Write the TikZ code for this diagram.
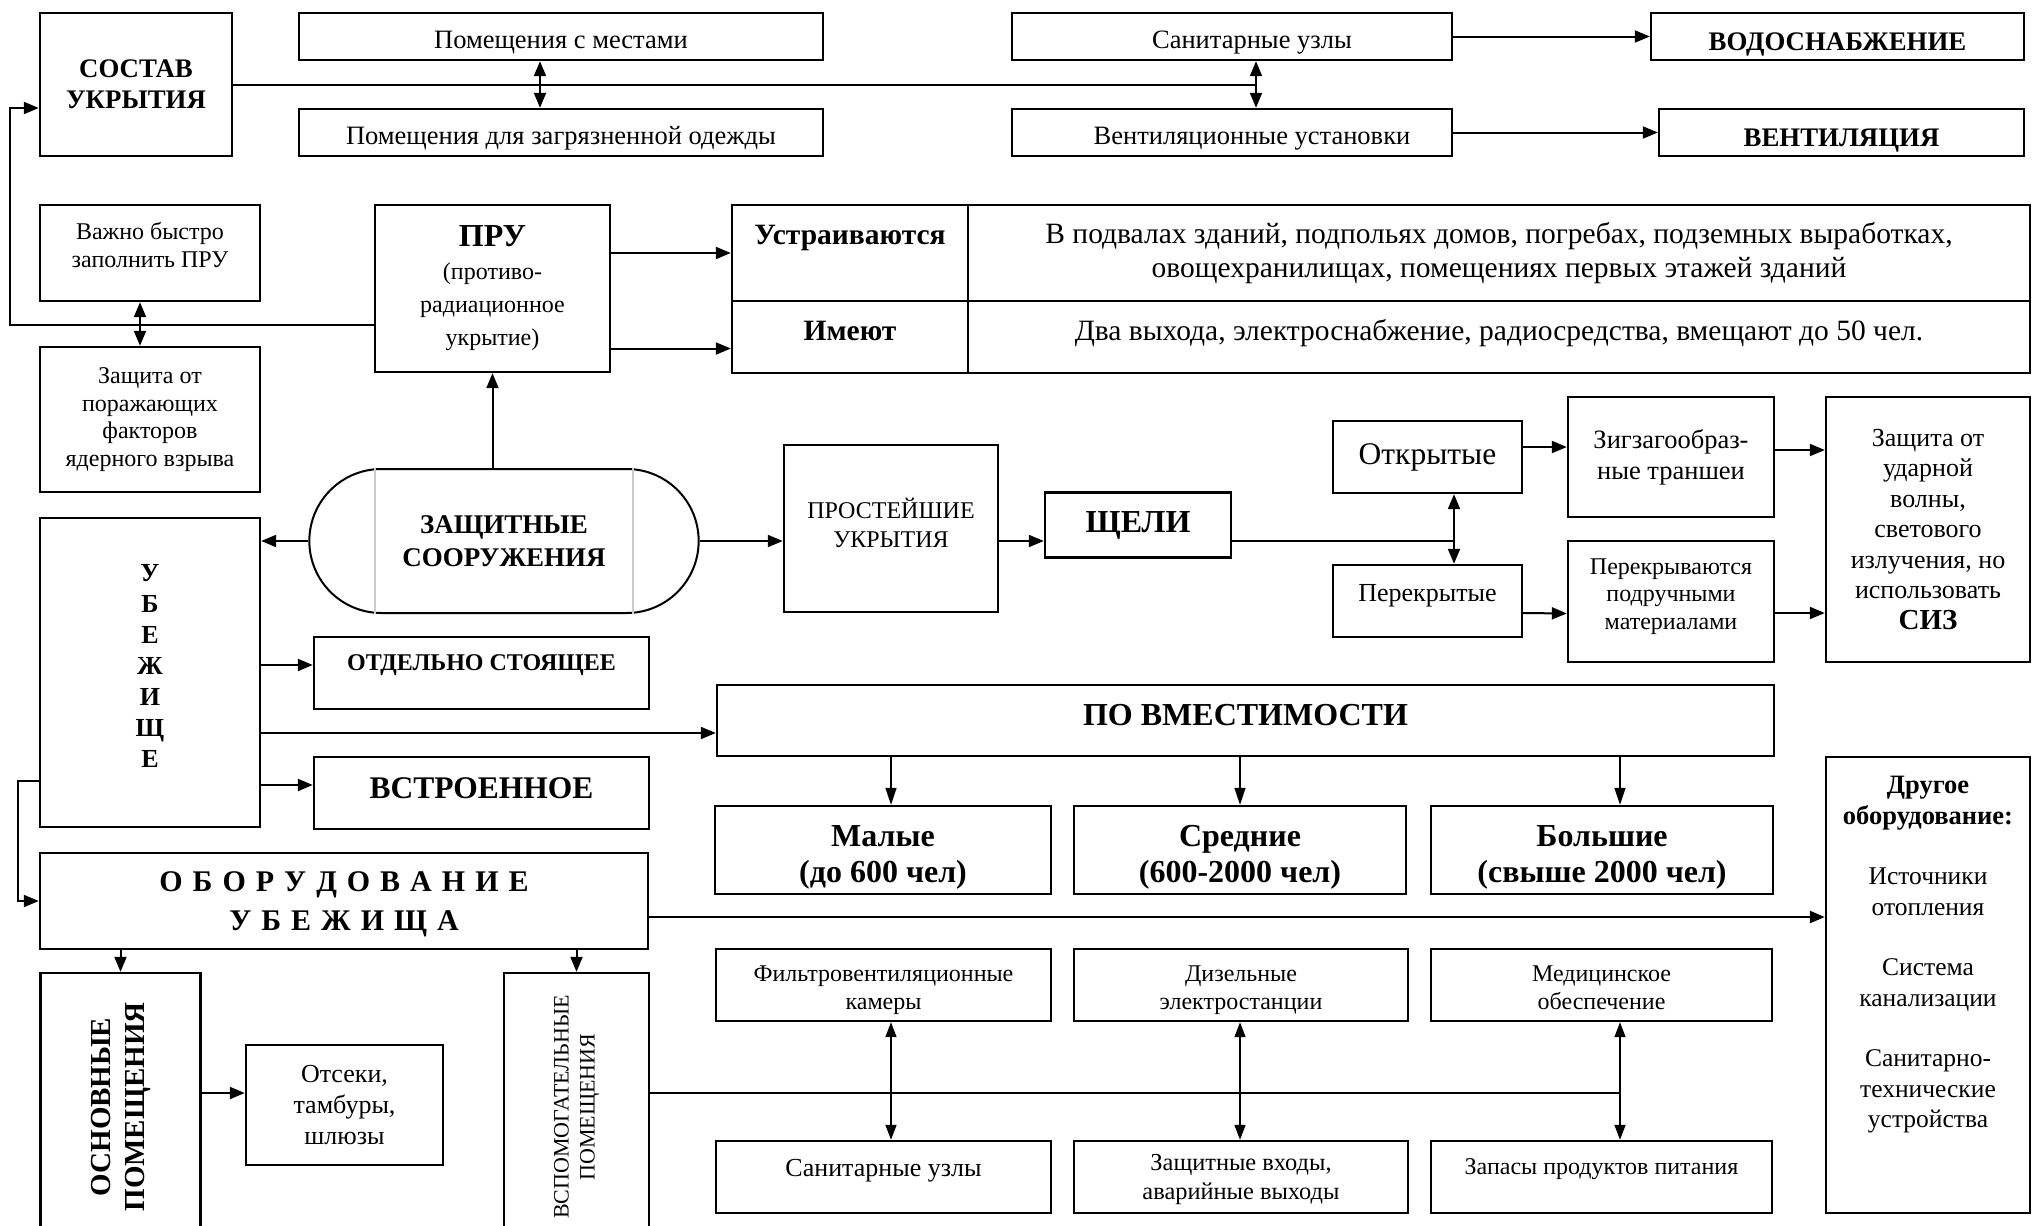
\documentclass[tikz,border=0pt]{standalone}
\usepackage{fontspec}
\setmainfont{Liberation Serif}
\usepackage{graphicx}
\usepackage{tikz}
\usetikzlibrary{arrows.meta, positioning, calc, shapes.misc}
\newcommand{\fsz}[2]{\fontsize{#1pt}{#2pt}\selectfont}
\newcommand{\widesp}{\spaceskip=10pt\relax}
\tikzstyle{box} = [rectangle, draw, line width=2.4pt, align=center, inner sep=2pt, font=\fsz{26.5}{31}]
\tikzstyle{arr} = [line width=2pt, -{Triangle[length=15pt, width=12pt]}]
\tikzstyle{dbl} = [line width=2pt, {Triangle[length=15pt, width=12pt]}-{Triangle[length=15pt, width=12pt]}]
\tikzstyle{tarr} = [line width=1.5pt, -{Triangle[length=17pt, width=11pt]}]
\tikzstyle{tdbl} = [line width=1.5pt, {Triangle[length=15pt, width=11pt]}-{Triangle[length=15pt, width=11pt]}]
\tikzstyle{link} = [line width=2pt]

\begin{document}
\begin{tikzpicture}[x=1pt, y=-1pt]
\useasboundingbox (0,0) rectangle (2032,1226);
\fill [white] (0,0) rectangle (2032,1226);

\node (sostav) [box, font=\fsz{26.8}{31}\bfseries, minimum width=192pt, minimum height=143pt] at (136,84.5) {СОСТАВ\\УКРЫТИЯ};
\node (pmest) [box, minimum width=524pt, minimum height=47pt, text height=26pt, text depth=3pt] at (561,36.5) {Помещения с местами};
\node (podezh) [box, minimum width=524pt, minimum height=47pt, text height=26pt, text depth=3pt] at (561,132.5) {Помещения для загрязненной одежды};
\node (sanuz) [box, minimum width=440pt, minimum height=47pt, text height=26pt, text depth=3pt] at (1232,36.5) {\hspace*{40pt}Санитарные узлы};
\node (vustan) [box, minimum width=440pt, minimum height=47pt, text height=26pt, text depth=3pt] at (1232,132.5) {\hspace*{40pt}Вентиляционные установки};
\node (vodo) [box, font=\fsz{26.8}{31}\bfseries, minimum width=373pt, minimum height=47pt, text height=28pt, text depth=0pt] at (1837.5,36.5) {ВОДОСНАБЖЕНИЕ};
\node (ventil) [box, font=\fsz{26.8}{31}\bfseries, minimum width=365pt, minimum height=47pt, text height=28pt, text depth=0pt] at (1841.5,132.5) {ВЕНТИЛЯЦИЯ};
\coordinate (j1) at (540,85);
\coordinate (j2) at (1256,85);
\draw [link] (sostav.east |- j1) -- (j2);
\draw [dbl] (pmest.south -| j1) -- (podezh.north -| j1);
\draw [dbl] (sanuz.south -| j2) -- (vustan.north -| j2);
\draw [arr] (sanuz.east) -- (vodo.west);
\draw [arr] (vustan.east) -- (ventil.west);

\node (vazhno) [box, font=\fsz{24}{27.5}, minimum width=220pt, minimum height=96pt, text depth=16pt] at (150,253) {Важно быстро\\заполнить ПРУ};
\node (zaschita) [box, font=\fsz{24}{27.5}, minimum width=220pt, minimum height=145pt] at (150,419.5) {Защита от\\поражающих\\факторов\\ядерного взрыва};
\draw [dbl] ([xshift=-10pt]vazhno.south) -- ([xshift=-10pt]zaschita.north);
\node (pru) [box, font=\fsz{24}{33}, minimum width=235pt, minimum height=167pt] at (492.5,288.5) {{\fsz{32}{36}\bfseries ПРУ}\\(противо-\\радиационное\\укрытие)};
\coordinate (lft) at (10,108);
\draw [arr] ($(pru.west)+(0,36.5)$) -| (lft) -- (sostav.west |- lft);

\node (ustr) [box, font=\fsz{29.5}{34}\bfseries, minimum width=236pt, minimum height=96pt, text depth=36pt] at (850,253) {Устраиваются};
\node (ustrT) [box, font=\fsz{29.5}{34}, minimum width=1062pt, minimum height=96pt] at (1499,253) {В подвалах зданий, подпольях домов, погребах, подземных выработках,\\овощехранилищах, помещениях первых этажей зданий};
\node (imeyut) [box, font=\fsz{29.5}{34}\bfseries, minimum width=236pt, minimum height=72pt, text depth=12pt] at (850,337) {Имеют};
\node (imT) [box, font=\fsz{29.5}{34}, minimum width=1062pt, minimum height=72pt, text depth=14pt] at (1499,337) {Два выхода, электроснабжение, радиосредства, вмещают до 50 чел.};
\coordinate (pa) at ([yshift=-60pt]pru.east);
\draw [arr] (pru.east |- ustr.west) -- (ustr.west);
\draw [arr] (pa) -- (pa -| imeyut.west);

\node (zs) [rounded rectangle, draw, line width=2pt, align=center, font=\fsz{27}{33}\bfseries, minimum width=396pt, minimum height=144pt] at (504,541) {ЗАЩИТНЫЕ\\СООРУЖЕНИЯ};
\draw [gray!40, line width=1.2pt] ($(zs.north)+(-129,0)$) -- ($(zs.south)+(-129,0)$);
\draw [gray!40, line width=1.2pt] ($(zs.north)+(129,0)$) -- ($(zs.south)+(129,0)$);
\draw [arr] (zs.north -| pru.south) -- (pru.south);

\node (prost) [box, font=\fsz{24}{29}, minimum width=214pt, minimum height=167pt, text depth=12pt] at (891,528.5) {ПРОСТЕЙШИЕ\\УКРЫТИЯ};
\node (scheli) [box, font=\fsz{32}{36}\bfseries, minimum width=186pt, minimum height=65pt] at (1138,525) {ЩЕЛИ};
\coordinate (jsh) at (1454,541);
\draw [arr] (zs.east) -- (zs.east -| prost.west);
\draw [arr] (prost.east |- jsh) -- (scheli.west |- jsh);
\draw [link] (scheli.east |- jsh) -- (jsh);
\node (otkr) [box, font=\fsz{31.5}{35}, minimum width=189pt, minimum height=72pt] at (1427.5,457) {Открытые};
\node (perekr) [box, font=\fsz{26}{30}, minimum width=189pt, minimum height=72pt, text depth=16pt] at (1427.5,601) {Перекрытые};
\draw [dbl] (otkr.south -| jsh) -- (perekr.north -| jsh);
\node (zigzag) [box, font=\fsz{26.5}{31}, minimum width=206pt, minimum height=120pt] at (1671,457) {Зигзагообраз-\\ные траншеи};
\node (perekrM) [box, font=\fsz{24}{27.5}, minimum width=206pt, minimum height=121pt, text depth=15pt] at (1671,601.5) {Перекрываются\\подручными\\материалами};
\node (zashUd) [box, font=\fsz{26}{30.5}, minimum width=204pt, minimum height=265pt] at (1928,529.5) {Защита от\\ударной\\волны,\\светового\\излучения, но\\использовать\\{\fsz{29}{30}\bfseries СИЗ}};
\coordinate (pz) at ([yshift=7pt]zigzag.east);
\coordinate (pm) at ([yshift=-11.5pt]perekrM.east);
\draw [arr] ([yshift=10pt]otkr.east) -- ([yshift=10pt]zigzag.west);
\draw [arr] (pz) -- (pz -| zashUd.west);
\draw [arr] ([yshift=-12pt]perekr.east) -- ([yshift=-12pt]perekrM.west);
\draw [arr] (pm) -- (pm -| zashUd.west);

\node (ubezh) [box, font=\fsz{26}{31}\bfseries, minimum width=220pt, minimum height=309pt, text depth=13pt] at (150,672.5) {У\\Б\\Е\\Ж\\И\\Щ\\Е};
\draw [arr] (zs.west) -- (zs.west -| ubezh.east);
\node (otdel) [box, font=\fsz{24}{29}\bfseries, minimum width=335pt, minimum height=72pt, text depth=20pt] at (481.5,673) {ОТДЕЛЬНО СТОЯЩЕЕ};
\node (vstr) [box, font=\fsz{31.5}{35}\bfseries, minimum width=335pt, minimum height=72pt, text depth=10pt] at (481.5,793) {ВСТРОЕННОЕ};
\node (povm) [box, font=\fsz{32}{36}\bfseries, minimum width=1057pt, minimum height=71pt, text depth=11pt] at (1245.5,720.5) {ПО ВМЕСТИМОСТИ};
\coordinate (po) at ([yshift=8pt]otdel.west);
\coordinate (pv) at ([yshift=8pt]vstr.west);
\coordinate (pp) at ([yshift=-12.5pt]povm.west);
\draw [arr] (ubezh.east |- po) -- (po);
\draw [arr] (ubezh.east |- pv) -- (pv);
\draw [arr] (ubezh.east |- pp) -- (pp);

\node (small) [box, font=\fsz{32}{36}\bfseries, minimum width=336pt, minimum height=88pt, text height=65pt, text depth=0pt] at (883,850) {Малые\\(до 600 чел)};
\node (medium) [box, font=\fsz{32}{36}\bfseries, minimum width=332pt, minimum height=88pt, text height=65pt, text depth=0pt] at (1240,850) {Средние\\(600-2000 чел)};
\node (large) [box, font=\fsz{32}{36}\bfseries, minimum width=342pt, minimum height=88pt, text height=65pt, text depth=0pt] at (1602,850) {Большие\\(свыше 2000 чел)};
\coordinate (c1) at (891,0);
\coordinate (c2) at (1240,0);
\coordinate (c3) at (1620,0);
\draw [tarr] (povm.south -| c1) -- (small.north -| c1);
\draw [tarr] (povm.south -| c2) -- (medium.north -| c2);
\draw [tarr] (povm.south -| c3) -- (large.north -| c3);

\node (obor) [box, font=\fsz{30}{39}\bfseries\widesp, minimum width=608pt, minimum height=96pt, text depth=0pt] at (344,901) {О Б О Р У Д О В А Н И Е\\У Б Е Ж И Щ А};
\coordinate (pl) at ([yshift=-108.5pt]ubezh.west);
\draw [arr] (pl) -| ($(obor.west)+(-21,0)$) -- (obor.west);
\node (drugoe) [box, font=\fsz{25.5}{30.5}, minimum width=204pt, minimum height=456pt, text depth=66pt] at (1928,985) {{\fsz{26.5}{30.5}\bfseries Другое}\\{\fsz{26.5}{30.5}\bfseries оборудование:}\\[30pt]Источники\\отопления\\[30pt]Система\\канализации\\[30pt]Санитарно-\\технические\\устройства};
\coordinate (po2) at ([yshift=-16pt]obor.east);
\draw [arr, line width=2.5pt] (po2) -- (po2 -| drugoe.west);

\node (filtr) [box, font=\fsz{24}{28}, minimum width=335pt, minimum height=72pt, text height=48pt, text depth=0pt] at (883.5,985) {Фильтровентиляционные\\камеры};
\node (dizel) [box, font=\fsz{24}{28}, minimum width=334pt, minimum height=72pt, text height=48pt, text depth=0pt] at (1241,985) {Дизельные\\электростанции};
\node (medic) [box, font=\fsz{24}{28}, minimum width=341pt, minimum height=72pt, text height=48pt, text depth=0pt] at (1601.5,985) {Медицинское\\обеспечение};
\node (sanuz2) [box, font=\fsz{26}{30}, minimum width=335pt, minimum height=72pt, text depth=18pt] at (883.5,1177) {Санитарные узлы};
\node (vhody) [box, font=\fsz{24.4}{29}, minimum width=334pt, minimum height=72pt, text height=44pt, text depth=0pt] at (1241,1177) {Защитные входы,\\аварийные выходы};
\node (zapasy) [box, font=\fsz{24}{28}, minimum width=341pt, minimum height=72pt, text depth=20pt] at (1601.5,1177) {Запасы продуктов питания};
\draw [tdbl] (filtr.south -| c1) -- (sanuz2.north -| c1);
\draw [tdbl] (dizel.south -| c2) -- (vhody.north -| c2);
\draw [tdbl] (medic.south -| c3) -- (zapasy.north -| c3);

\node (osn) [box, font=\fsz{29}{34}\bfseries, minimum width=160pt, minimum height=268pt] at (120.5,1107) {\rotatebox{90}{\begin{tabular}{@{}c@{}}ОСНОВНЫЕ\\ПОМЕЩЕНИЯ\end{tabular}}};
\node (vsp) [box, font=\fsz{22}{26}, minimum width=145pt, minimum height=268pt] at (576.5,1107) {\rotatebox{90}{\begin{tabular}{@{}c@{}}ВСПОМОГАТЕЛЬНЫЕ\\ПОМЕЩЕНИЯ\end{tabular}}};
\node (otseki) [box, font=\fsz{26}{31}, minimum width=197pt, minimum height=120pt] at (344.5,1105) {Отсеки,\\тамбуры,\\шлюзы};
\draw [arr] (obor.south -| osn.north) -- (osn.north);
\draw [arr] (obor.south -| vsp.north) -- (vsp.north);
\coordinate (jv) at (1620,1093);
\draw [arr] (osn.east |- jv) -- (otseki.west |- jv);
\draw [link] (vsp.east |- jv) -- (jv);
\end{tikzpicture}
\end{document}
